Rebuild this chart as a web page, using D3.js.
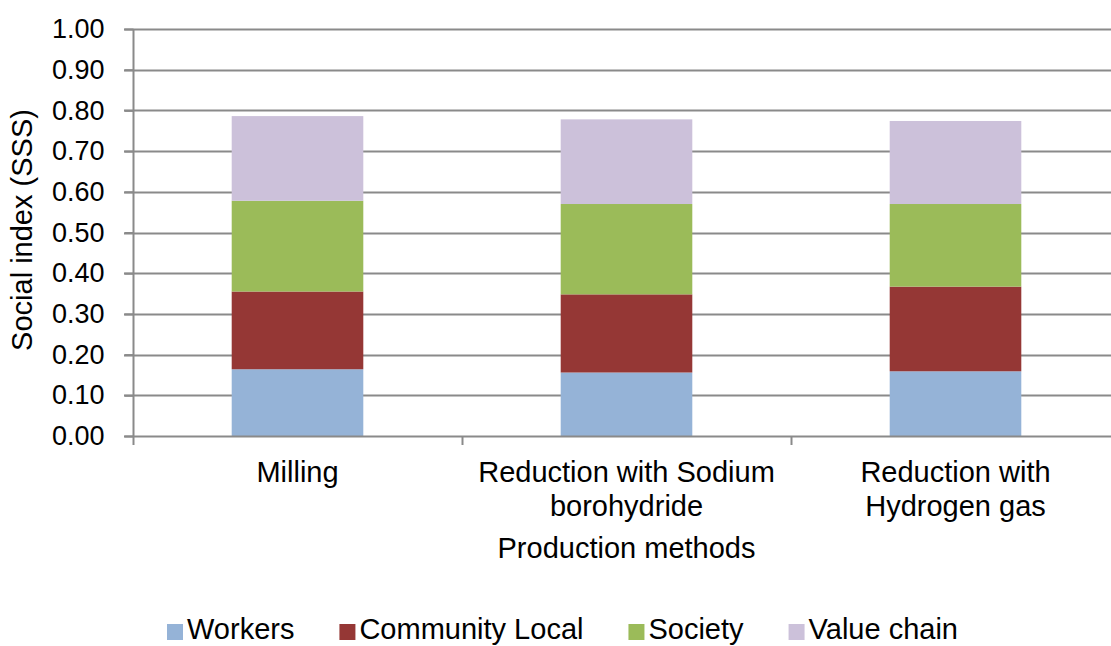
<!DOCTYPE html>
<html>
<head>
<meta charset="utf-8">
<script src="https://cdn.jsdelivr.net/npm/d3@7"></script>
<style>
  html, body { margin: 0; padding: 0; background: #fff; }
  svg { display: block; font-family: "Liberation Sans", Arial, sans-serif; }
</style>
</head>
<body>
<svg id="chart" width="1111" height="646"></svg>
<script>
// ---- data ----
const categories = ["Milling", "Reduction with Sodium borohydride", "Reduction with Hydrogen gas"];
const categoryLabelLines = [["Milling"], ["Reduction with Sodium", "borohydride"], ["Reduction with", "Hydrogen gas"]];
const seriesNames = ["Workers", "Community Local", "Society", "Value chain"];
const workers = [0.164, 0.156, 0.159];
const communityLocal = [0.191, 0.192, 0.208];
const society = [0.223, 0.222, 0.203];
const valueChain = [0.208, 0.208, 0.204];
const seriesColors = ["#95B3D7", "#953735", "#9BBB59", "#CCC1DA"];
const yTicks = [0, 0.1, 0.2, 0.3, 0.4, 0.5, 0.6, 0.7, 0.8, 0.9, 1.0];
const yTitle = "Social index (SSS)";
const xTitle = "Production methods";

// ---- build table ----
const seriesValues = [workers, communityLocal, society, valueChain];
const table = categories.map((c, i) => {
  const row = { category: c };
  seriesNames.forEach((s, j) => { row[s] = seriesValues[j][i]; });
  return row;
});

const svg = d3.select("#chart");
const mLeft = 133, mRight = 1120, mTop = 29, mBottom = 436;

const x = d3.scaleBand().domain(categories).range([mLeft, mRight]).padding(0);
const y = d3.scaleLinear().domain([0, 1]).range([mBottom, mTop]);
const color = d3.scaleOrdinal().domain(seriesNames).range(seriesColors);

const gridColor = "#8a8a8a";

// gridlines
svg.append("g").selectAll("line").data(yTicks.filter(d => d > 0)).join("line")
  .attr("x1", mLeft - 9).attr("x2", 1111)
  .attr("y1", d => Math.round(y(d)) + 0.5).attr("y2", d => Math.round(y(d)) + 0.5)
  .attr("stroke", gridColor).attr("stroke-width", 2);

// y axis
const yAxis = d3.axisLeft(y).tickValues(yTicks).tickFormat(d3.format(".2f")).tickSize(9).tickPadding(20);
const gy = svg.append("g").attr("transform", `translate(${mLeft + 0.5},0)`).call(yAxis);
gy.select(".domain").attr("stroke", gridColor).attr("stroke-width", 2).attr("d", `M0,${mTop}V${mBottom}`);
gy.selectAll(".tick line").attr("stroke", gridColor).attr("stroke-width", 2);
gy.selectAll(".tick text").attr("font-size", 27).attr("fill", "#000")
  .attr("font-family", "'Liberation Sans', Arial, sans-serif");

// stacked bars
const stack = d3.stack().keys(seriesNames);
const stacked = stack(table);
const barW = x.bandwidth() * 0.4;
svg.append("g").selectAll("g").data(stacked).join("g")
  .attr("fill", d => color(d.key))
  .selectAll("rect").data(d => d).join("rect")
  .attr("x", d => x(d.data.category) + (x.bandwidth() - barW) / 2)
  .attr("width", barW)
  .attr("y", d => y(d[1]))
  .attr("height", d => y(d[0]) - y(d[1]));

// x axis
const xAxis = d3.axisBottom(x).tickSize(0).tickFormat("");
const gx = svg.append("g").attr("transform", `translate(0,${mBottom + 0.5})`).call(xAxis);
gx.select(".domain").attr("stroke", gridColor).attr("stroke-width", 2).attr("d", `M${mLeft - 9},0H1111`);
// category boundary ticks
const boundaries = categories.map(c => x(c)).concat([x(categories[categories.length - 1]) + x.bandwidth()]);
svg.append("g").selectAll("line").data(boundaries).join("line")
  .attr("x1", d => Math.round(d) + 0.5).attr("x2", d => Math.round(d) + 0.5)
  .attr("y1", mBottom).attr("y2", mBottom + 9)
  .attr("stroke", gridColor).attr("stroke-width", 2);

// category labels
const catG = svg.append("g");
categories.forEach((c, i) => {
  const t = catG.append("text")
    .attr("x", x(c) + x.bandwidth() / 2).attr("y", 482)
    .attr("text-anchor", "middle").attr("font-size", 29).attr("fill", "#000");
  categoryLabelLines[i].forEach((line, k) => {
    t.append("tspan").attr("x", x(c) + x.bandwidth() / 2).attr("dy", k === 0 ? 0 : 34).text(line);
  });
});

// axis titles
svg.append("text").attr("x", (mLeft + mRight) / 2).attr("y", 558)
  .attr("text-anchor", "middle").attr("font-size", 29).attr("fill", "#000").text(xTitle);
svg.append("text").attr("transform", "translate(32,230) rotate(-90)")
  .attr("text-anchor", "middle").attr("font-size", 29).attr("fill", "#000").text(yTitle);

// legend
const legend = svg.append("g");
let lx = 167;
seriesNames.forEach((s, i) => {
  legend.append("rect").attr("x", lx).attr("y", 624).attr("width", 16).attr("height", 16).attr("fill", color(s));
  const t = legend.append("text").attr("x", lx + 20).attr("y", 639)
    .attr("font-size", 29).attr("fill", "#000").text(s);
  lx += 20 + t.node().getComputedTextLength() + 45;
});
</script>
</body>
</html>
